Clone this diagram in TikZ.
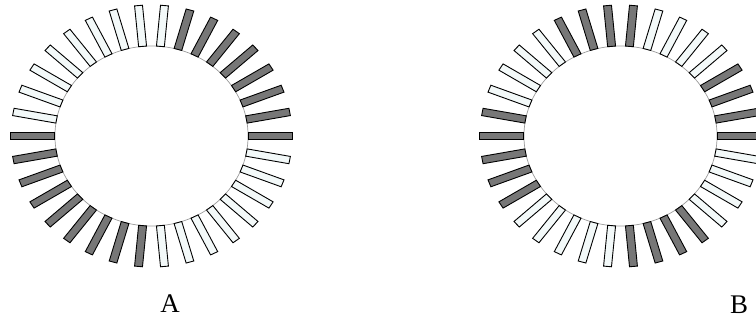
\documentclass[tikz,border=0pt]{standalone}
\usepackage{fontspec}
\setmainfont{Liberation Serif}
\usepackage{xcolor}
\usepackage{tikz}
\definecolor{barGray}{HTML}{777777}
\definecolor{barWhite}{HTML}{F3F9F9}
\definecolor{rimGray}{HTML}{9A9A9A}
\begin{document}
\begin{tikzpicture}[x=1bp,y=1bp,
 bar/.style={draw=black,line width=0.9bp},
 dk/.style={bar,fill=barGray},
 lt/.style={bar,fill=barWhite},
 rim/.style={draw=rimGray,line width=0.7bp},
 lbl/.style={anchor=base,inner sep=0pt,font=\fontsize{27}{30}\selectfont}]
\useasboundingbox (0,0) rectangle (756,321);
% ring A
\begin{scope}[shift={(151.5,185)},xscale=1.073]
\draw[rim] (0,0) circle (90);
\foreach \k in {0,1,2,3,4,5,6,7,17,18,19,20,21,22,23,24,25}
  \draw[dk,rotate=\k*360/34] (90,-3.7) rectangle (131,3.7);
\foreach \k in {8,9,10,11,12,13,14,15,16,26,27,28,29,30,31,32,33}
  \draw[lt,rotate=\k*360/34] (90,-3.7) rectangle (131,3.7);
\end{scope}
% ring B
\begin{scope}[shift={(620.5,185)},xscale=1.073]
\draw[rim] (0,0) circle (90);
\foreach \k in {0,1,2,3,8,9,10,11,16,17,18,19,20,26,27,28,29}
  \draw[dk,rotate=\k*360/34] (90,-3.7) rectangle (131,3.7);
\foreach \k in {4,5,6,7,12,13,14,15,21,22,23,24,25,30,31,32,33}
  \draw[lt,rotate=\k*360/34] (90,-3.7) rectangle (131,3.7);
\end{scope}
\node[lbl] (labA) at (170,8.3) {A};
\node[lbl] (labB) at (739,8) {B};
\end{tikzpicture}
\end{document}
